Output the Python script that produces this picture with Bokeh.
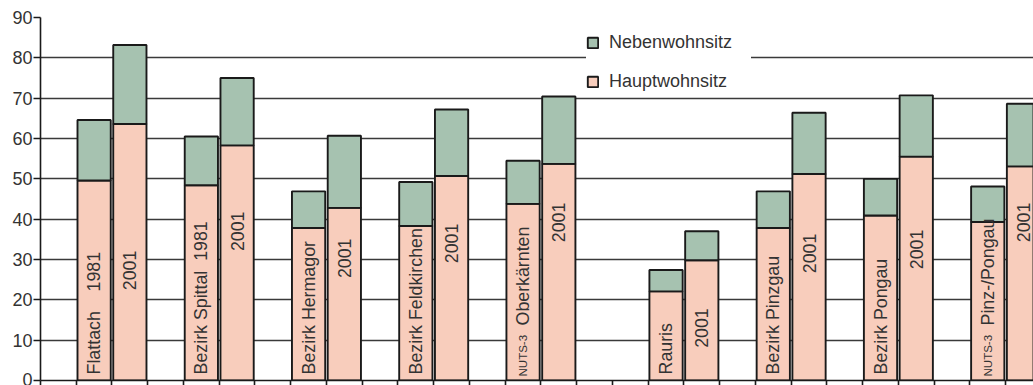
import math
from bokeh.plotting import figure
from bokeh.models import (ColumnDataSource, Range1d, FixedTicker, Legend, LegendItem)
from bokeh.core.properties import value
from bokeh.embed import file_html
from bokeh.resources import INLINE

# ---- data ----
regions = ["Flattach", "Bezirk Spittal", "Bezirk Hermagor", "Bezirk Feldkirchen",
           "Oberkärnten", "Rauris", "Bezirk Pinzgau", "Bezirk Pongau", "Pinz-/Pongau"]
label_prefix = ["", "", "", "", "NUTS-3", "", "", "", "NUTS-3"]
label_1981 = ["Flattach\u00a0\u00a0\u00a0\u00a01981", "Bezirk Spittal\u00a0\u00a01981",
              "Bezirk Hermagor", "Bezirk Feldkirchen", "Oberkärnten", "Rauris",
              "Bezirk Pinzgau", "Bezirk Pongau", "Pinz-/Pongau"]
label_2001 = ["2001"] * 9
haupt_1981 = [49.6, 48.4, 37.8, 38.3, 43.8, 22.1, 37.8, 40.9, 39.3]
neben_1981 = [15.0, 12.1, 9.1, 10.9, 10.7, 5.3, 9.1, 9.1, 8.8]
haupt_2001 = [63.6, 58.3, 42.8, 50.7, 53.7, 29.8, 51.2, 55.5, 53.1]
neben_2001 = [19.6, 16.7, 17.9, 16.5, 16.7, 7.2, 15.2, 15.2, 15.5]
# top end (in y units) of each "2001" label
label_top_2001 = [32.2, 41.9, 35.2, 38.9, 44.1, 17.9, 36.4, 37.4, 44.1]
y_ticks = [0, 10, 20, 30, 40, 50, 60, 70, 80, 90]

# ---- slot layout: one empty slot before each pair, two before Rauris ----
pos_1981 = [1 + 3 * i + (1 if i >= 5 else 0) + 0.5 for i in range(len(regions))]
pos_2001 = [x + 1 for x in pos_1981]

xs = pos_1981 + pos_2001
haupt = haupt_1981 + haupt_2001
neben = neben_1981 + neben_2001
src = ColumnDataSource(dict(x=xs, haupt=haupt, neben=neben))

PINK = "#f8cdbc"
GREEN = "#a6c2b0"
FONT = "Liberation Sans"
TXT = "#333333"
DARK = "#1a1a1a"

p = figure(width=1033, height=385, output_backend="svg", toolbar_location=None,
           x_range=Range1d(0, 27.78), y_range=Range1d(0, 90),
           min_border_left=40, min_border_top=17, min_border_bottom=5, min_border_right=0)
p.outline_line_color = None
p.background_fill_color = "white"
p.border_fill_color = "white"

rs = p.vbar_stack(["haupt", "neben"], x="x", width=0.93, source=src,
                  fill_color=[PINK, GREEN], line_color=DARK, line_width=1.9)

# labels in bars
lab_src = ColumnDataSource(dict(x=pos_1981, y=[1.5] * 9, t=label_1981,
                                off=[-49 if pf else 0 for pf in label_prefix]))
p.text(x="x", y="y", text="t", y_offset="off", source=lab_src, angle=math.pi / 2,
       text_align="left", text_baseline="middle", text_font=value(FONT),
       text_font_size="17.8px", text_color=TXT)
pre_x = [x for x, pf in zip(pos_1981, label_prefix) if pf]
pre_t = [pf for pf in label_prefix if pf]
p.text(x=pre_x, y=[1.0] * len(pre_x), text=pre_t, angle=math.pi / 2,
       text_align="left", text_baseline="middle", text_font=value(FONT),
       text_font_size="11.5px", text_color=TXT)
p.text(x=pos_2001, y=label_top_2001, text=label_2001, angle=math.pi / 2,
       text_align="right", text_baseline="middle", text_font=value(FONT),
       text_font_size="17.8px", text_color=TXT)

# grid
p.xgrid.visible = False
p.ygrid.ticker = FixedTicker(ticks=y_ticks)
p.ygrid.grid_line_color = "#3a3a3a"
p.ygrid.grid_line_width = 1.6
p.ygrid.level = "underlay"

# axes
p.yaxis.ticker = FixedTicker(ticks=y_ticks)
p.yaxis.axis_line_color = DARK
p.yaxis.axis_line_width = 1.6
p.yaxis.major_tick_line_color = DARK
p.yaxis.major_tick_line_width = 1.6
p.yaxis.major_tick_out = 7
p.yaxis.major_tick_in = 0
p.yaxis.minor_tick_line_color = None
p.yaxis.major_label_standoff = 1
p.yaxis.major_label_text_font = FONT
p.yaxis.major_label_text_font_size = "18px"
p.yaxis.major_label_text_color = TXT

slot_edges = list(range(0, 28))
p.xaxis.ticker = FixedTicker(ticks=slot_edges)
p.xaxis.major_label_overrides = {i: "" for i in slot_edges}
p.xaxis.axis_line_color = DARK
p.xaxis.axis_line_width = 1.6
p.xaxis.major_tick_line_color = DARK
p.xaxis.major_tick_line_width = 1.6
p.xaxis.major_tick_out = 5
p.xaxis.major_tick_in = 0
p.xaxis.minor_tick_line_color = None
p.xaxis.major_label_text_font_size = "0px"
p.xaxis.major_label_standoff = 0

legend = Legend(items=[LegendItem(label="Nebenwohnsitz", renderers=[rs[1]]),
                       LegendItem(label="Hauptwohnsitz", renderers=[rs[0]])],
                location=(546, 288), orientation="vertical")
legend.border_line_color = None
legend.background_fill_color = "white"
legend.background_fill_alpha = 1.0
legend.margin = 0
legend.padding = 7
legend.spacing = 18
legend.glyph_width = 13
legend.glyph_height = 13
legend.label_height = 21
legend.label_width = 142
legend.label_standoff = 10
legend.label_text_font = FONT
legend.label_text_font_size = "18px"
legend.label_text_color = TXT
p.add_layout(legend, "center")

open("out.html", "w").write(file_html(p, INLINE))
